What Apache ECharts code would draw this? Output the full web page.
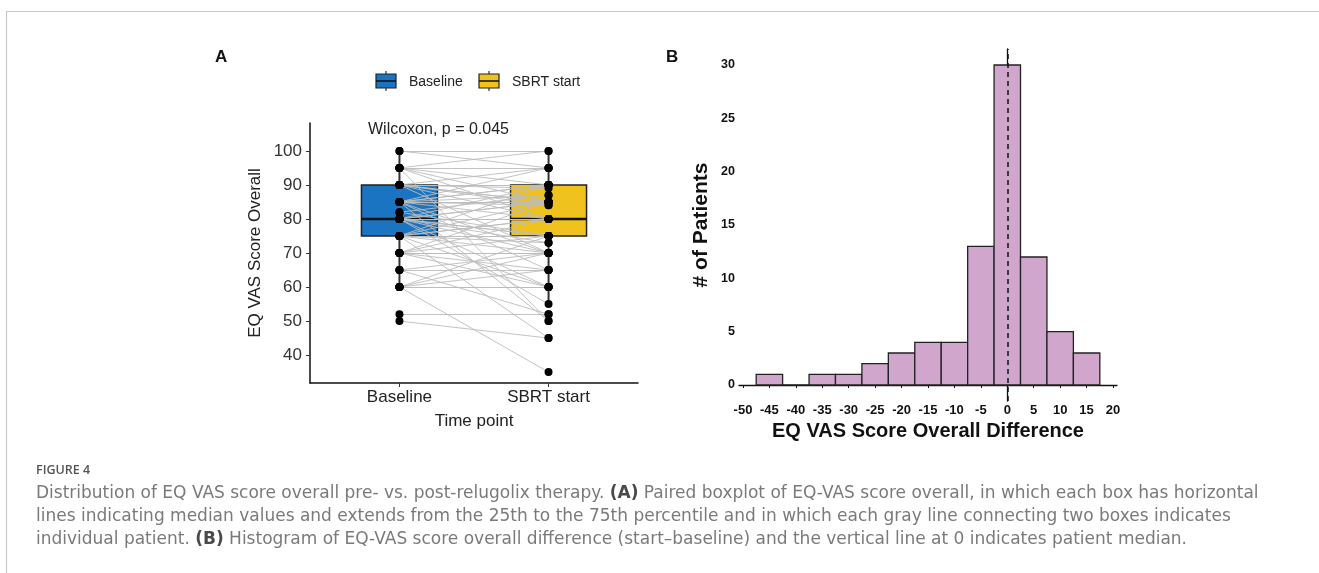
<!DOCTYPE html>
<html>
<head>
<meta charset="utf-8">
<title>Figure 4</title>
<script src="https://cdn.jsdelivr.net/npm/echarts@6/dist/echarts.min.js"></script>
<style>
  html, body { margin: 0; padding: 0; background: #fff; }
  #chart { width: 1319px; height: 573px; }
</style>
</head>
<body>
<div id="chart"></div>
<script>
// --- panel A: paired EQ VAS scores (one entry per patient) ---
const timePoints = ['Baseline', 'SBRT start'];
const baselineScores = [
  95, 85, 75, 60, 80, 90, 85, 80, 95, 75, 65, 85, 90, 70, 95, 80,
  90, 90, 85, 80, 80, 75, 95, 100, 70, 82, 90, 80, 50,
  100, 95, 90, 90, 90, 90, 90, 90, 85, 85, 85, 85, 80, 80, 80, 80, 80, 80,
  75, 75, 75, 75, 70, 70, 60, 60, 52, 65, 85, 75,
  75, 75, 80, 80, 85, 85, 90, 70, 60, 65, 82, 95,
  80, 75, 70, 60, 85,
  75, 70, 60
];
const sbrtScores = [
  50, 50, 45, 35, 55, 70, 65, 60, 80, 60, 52, 70, 80, 60, 85, 70,
  85, 85, 80, 75, 75, 70, 90, 95, 65, 75, 84, 73, 45,
  100, 95, 90, 90, 90, 90, 90, 89, 85, 85, 85, 84, 80, 80, 80, 80, 80, 80,
  75, 75, 75, 75, 70, 70, 60, 60, 52, 65, 87, 73,
  80, 80, 85, 85, 90, 90, 95, 75, 65, 70, 87, 100,
  90, 85, 80, 70, 95,
  90, 85, 75
];
// lower whisker, Q1, median, Q3, upper whisker
const boxStats = [
  [60, 75, 80, 90, 100],
  [55, 75, 80, 90, 100]
];
const boxColors = ['#1a74c1', '#efc21e'];
const vasTicks = [40, 50, 60, 70, 80, 90, 100];

// --- panel B: histogram of differences ---
const diffBins = [-45, -40, -35, -30, -25, -20, -15, -10, -5, 0, 5, 10, 15];
const diffCounts = [1, 0, 1, 1, 2, 3, 4, 4, 13, 30, 12, 5, 3];
const binWidth = 5;
const diffTicks = [-50, -45, -40, -35, -30, -25, -20, -15, -10, -5, 0, 5, 10, 15, 20];
const countTicks = [0, 5, 10, 15, 20, 25, 30];

const chart = echarts.init(document.getElementById('chart'));

const pairLines = baselineScores.map((b, i) => ({ coords: [[1, b], [2, sbrtScores[i]]] }));
const dots = [];
baselineScores.forEach(v => dots.push([1, v]));
sbrtScores.forEach(v => dots.push([2, v]));

function renderBox(params, api) {
  const x = api.value(0);
  const lo = api.coord([x, api.value(1)]);
  const q1 = api.coord([x, api.value(2)]);
  const med = api.coord([x, api.value(3)]);
  const q3 = api.coord([x, api.value(4)]);
  const hi = api.coord([x, api.value(5)]);
  const half = 38;
  return {
    type: 'group',
    children: [
      { type: 'line', shape: { x1: lo[0], y1: lo[1], x2: hi[0], y2: hi[1] },
        style: { stroke: '#333', lineWidth: 2 } },
      { type: 'rect', shape: { x: q3[0] - half, y: q3[1], width: half * 2, height: q1[1] - q3[1] },
        style: { fill: boxColors[params.dataIndex], stroke: '#222', lineWidth: 1.5 } },
      { type: 'line', shape: { x1: med[0] - half, y1: med[1], x2: med[0] + half, y2: med[1] },
        style: { stroke: '#111', lineWidth: 2.5 } }
    ]
  };
}

function renderBin(params, api) {
  const c = api.value(0);
  const p0 = api.coord([c - binWidth / 2, api.value(1)]);
  const p1 = api.coord([c + binWidth / 2, 0]);
  return {
    type: 'rect',
    shape: { x: p0[0], y: p0[1], width: p1[0] - p0[0], height: p1[1] - p0[1] },
    style: { fill: '#d0a6cd', stroke: '#222', lineWidth: 1.3 }
  };
}

function legendIcon(x, color) {
  return {
    type: 'group',
    children: [
      { type: 'line', shape: { x1: x + 10, y1: 71, x2: x + 10, y2: 91 }, style: { stroke: '#333', lineWidth: 1.2 } },
      { type: 'rect', shape: { x: x, y: 74, width: 20, height: 14 }, style: { fill: color, stroke: '#222', lineWidth: 1.2 } },
      { type: 'line', shape: { x1: x, y1: 81, x2: x + 20, y2: 81 }, style: { stroke: '#111', lineWidth: 1.5 } }
    ]
  };
}

const captionFont = '17px "DejaVu Sans", sans-serif';
const bold = { fill: '#4a4a4a', font: 'bold 17px "DejaVu Sans", sans-serif' };

const option = {
  animation: false,
  textStyle: { fontFamily: '"Liberation Sans", Arial, sans-serif' },
  grid: [
    { left: 310, top: 123, width: 328, height: 260 },
    { left: 739, top: 49, width: 378, height: 352 }
  ],
  xAxis: [
    {
      gridIndex: 0, type: 'value', min: 0.4, max: 2.6,
      name: 'Time point', nameLocation: 'middle', nameGap: 30,
      nameTextStyle: { fontSize: 17, color: '#222' },
      axisLine: { lineStyle: { color: '#111', width: 1.5 } },
      axisTick: { show: true, customValues: [1, 2], length: 4, lineStyle: { color: '#333' } },
      axisLabel: {
        customValues: [1, 2], fontSize: 17, color: '#222', margin: 6,
        formatter: v => timePoints[Math.round(v) - 1]
      },
      splitLine: { show: false }
    },
    {
      gridIndex: 1, type: 'value', min: -50.75, max: 20.75,
      name: 'EQ VAS Score Overall Difference', nameLocation: 'middle', nameGap: 19,
      nameTextStyle: { fontSize: 20, fontWeight: 'bold', color: '#111' },
      axisLine: { lineStyle: { color: '#111', width: 1.3 } },
      axisTick: { show: true, customValues: diffTicks, length: 3, lineStyle: { color: '#111' } },
      axisLabel: { customValues: diffTicks, fontSize: 13, fontWeight: 'bold', color: '#111', margin: 3 },
      splitLine: { show: false }
    }
  ],
  yAxis: [
    {
      gridIndex: 0, type: 'value', min: 31.8, max: 108.2,
      name: 'EQ VAS Score Overall', nameLocation: 'middle', nameGap: 46,
      nameTextStyle: { fontSize: 17, color: '#222' },
      axisLine: { show: true, lineStyle: { color: '#111', width: 1.5 } },
      axisTick: { show: true, customValues: vasTicks, length: 4, lineStyle: { color: '#333' } },
      axisLabel: { customValues: vasTicks, fontSize: 17, color: '#333', margin: 8 },
      splitLine: { show: false }
    },
    {
      gridIndex: 1, type: 'value', min: -1.5, max: 31.5,
      name: '# of Patients', nameLocation: 'middle', nameGap: 27,
      nameTextStyle: { fontSize: 21, fontWeight: 'bold', color: '#111' },
      axisLine: { show: true, lineStyle: { color: '#111', width: 1.3 } },
      axisTick: { show: true, customValues: countTicks, length: 3, lineStyle: { color: '#111' } },
      axisLabel: { customValues: countTicks, fontSize: 12.5, fontWeight: 'bold', color: '#111', margin: 4 },
      splitLine: { show: false }
    }
  ],
  series: [
    {
      name: 'boxes', type: 'custom', xAxisIndex: 0, yAxisIndex: 0, z: 1,
      renderItem: renderBox,
      data: boxStats.map((s, i) => [i + 1].concat(s))
    },
    {
      name: 'pairs', type: 'lines', coordinateSystem: 'cartesian2d', xAxisIndex: 0, yAxisIndex: 0, z: 2,
      lineStyle: { color: '#bdbdbd', width: 1, opacity: 0.9 },
      data: pairLines
    },
    {
      name: 'scores', type: 'scatter', xAxisIndex: 0, yAxisIndex: 0, z: 3,
      symbolSize: 8, itemStyle: { color: '#000', opacity: 1 },
      data: dots
    },
    {
      name: 'difference', type: 'custom', xAxisIndex: 1, yAxisIndex: 1,
      renderItem: renderBin,
      data: diffBins.map((b, i) => [b, diffCounts[i]]),
      markLine: {
        silent: true, symbol: 'none', label: { show: false },
        lineStyle: { color: '#111', type: [5, 4], width: 1.5 },
        data: [{ xAxis: 0 }]
      }
    }
  ],
  graphic: [
    // frame lines of the figure panel
    { type: 'line', shape: { x1: 6, y1: 11.5, x2: 1319, y2: 11.5 }, style: { stroke: '#c8c8c8', lineWidth: 1.2 } },
    { type: 'line', shape: { x1: 6.5, y1: 11, x2: 6.5, y2: 573 }, style: { stroke: '#c8c8c8', lineWidth: 1.2 } },
    { type: 'text', style: { x: 215, y: 57, text: 'A', font: 'bold 17px "Liberation Sans", Arial', fill: '#111', textVerticalAlign: 'middle' } },
    { type: 'text', style: { x: 666, y: 57, text: 'B', font: 'bold 17px "Liberation Sans", Arial', fill: '#111', textVerticalAlign: 'middle' } },
    legendIcon(376, boxColors[0]),
    { type: 'text', style: { x: 409, y: 82, text: timePoints[0], font: '14px "Liberation Sans", Arial', fill: '#222', textVerticalAlign: 'middle' } },
    legendIcon(479, boxColors[1]),
    { type: 'text', style: { x: 512, y: 82, text: timePoints[1], font: '14px "Liberation Sans", Arial', fill: '#222', textVerticalAlign: 'middle' } },
    { type: 'text', style: { x: 368, y: 130, text: 'Wilcoxon, p = 0.045', font: '16px "Liberation Sans", Arial', fill: '#222', textVerticalAlign: 'middle' } },
    { type: 'text', style: { x: 36, y: 470, text: 'FIGURE 4', font: '600 12.5px "Open Sans", sans-serif', fill: '#555', textVerticalAlign: 'middle' } },
    {
      type: 'text',
      style: {
        x: 36, y: 494, font: captionFont, fill: '#7a7a7a', textVerticalAlign: 'middle',
        text: 'Distribution of EQ VAS score overall pre- vs. post-relugolix therapy. {b|(A)} Paired boxplot of EQ-VAS score overall, in which each box has horizontal',
        rich: { b: bold }
      }
    },
    {
      type: 'text',
      style: {
        x: 36, y: 517, font: captionFont, fill: '#7a7a7a', textVerticalAlign: 'middle',
        text: 'lines indicating median values and extends from the 25th to the 75th percentile and in which each gray line connecting two boxes indicates'
      }
    },
    {
      type: 'text',
      style: {
        x: 36, y: 540, font: captionFont, fill: '#7a7a7a', textVerticalAlign: 'middle',
        text: 'individual patient. {b|(B)} Histogram of EQ-VAS score overall difference (start\u2013baseline) and the vertical line at 0 indicates patient median.',
        rich: { b: bold }
      }
    }
  ]
};

chart.setOption(option);
</script>
</body>
</html>
